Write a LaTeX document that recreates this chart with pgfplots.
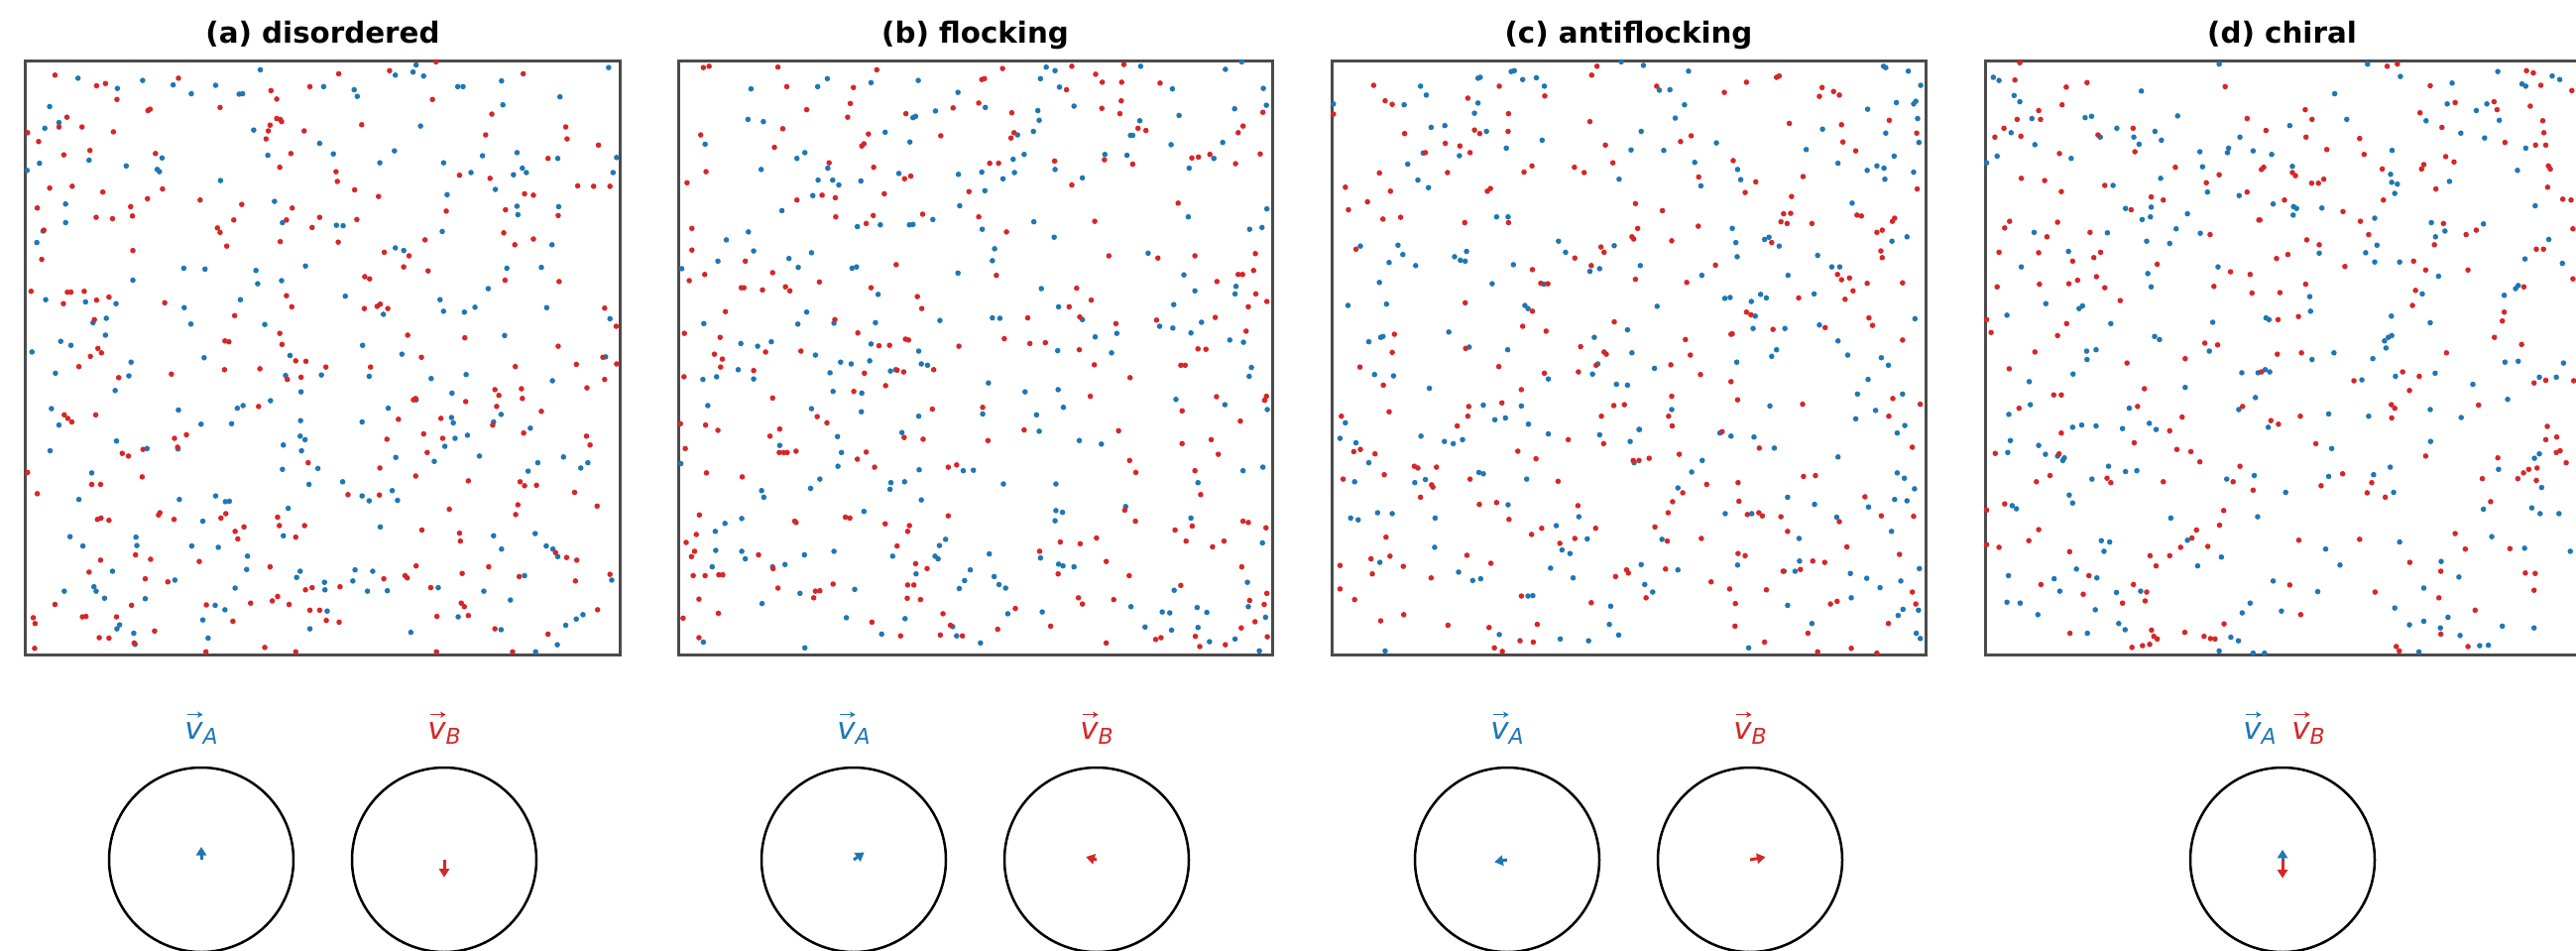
\documentclass[border=0pt]{standalone}
\usepackage{fontspec}
\setmainfont{DejaVu Sans}
\usepackage{pgfplots}
\pgfplotsset{compat=1.18}
\usepgfplotslibrary{polar}
\usetikzlibrary{arrows.meta}
\definecolor{cA}{HTML}{1F77B4}
\definecolor{cB}{HTML}{D62728}
\definecolor{framec}{RGB}{75,75,75}
\newcommand\vlab[3]{%
\node[anchor=base, text=#2, inner sep=0pt] (tmp) at (#1,63.9pt) {\fontsize{9.3}{10}\selectfont\itshape v\raisebox{-1.7pt}{\fontsize{6.6}{7}\selectfont #3}};
\draw[#2, line width=0.45pt, -{Stealth[length=1.7pt,width=1.9pt]}] ([xshift=1.0pt,yshift=7.3pt]tmp.base west) -- ++(4.7pt,0);}
\newcommand\ttl[1]{{\fontsize{8.8}{10}\selectfont\bfseries #1}}
\pgfplotsset{
 panel/.style={anchor=center, scale only axis, width=179.7pt, height=179.7pt, y dir=reverse, ymin=137, ymax=1478, xtick=\empty, ytick=\empty, axis line style={line width=0.9pt, draw=framec}},
 ptA/.style={only marks, mark=*, mark size=0.62pt, color=cA, mark options={draw=cA, fill=cA}},
 ptB/.style={only marks, mark=*, mark size=0.62pt, color=cB, mark options={draw=cB, fill=cB}},
 circ/.style={anchor=center, scale only axis, width=55.8pt, height=55.8pt, xtick=\empty, ytick=\empty, ymin=0, ymax=1, separate axis lines, x axis line style={line width=0.75pt, black}, y axis line style={draw=none}, clip=false},
 arA/.style={cA, line width=0.9pt, -{Triangle[length=2.6pt,width=3.1pt]}},
 arB/.style={cB, line width=0.9pt, -{Triangle[length=2.6pt,width=3.1pt]}},
}
\begin{document}
\begin{tikzpicture}
\path[use as bounding box] (0,0) rectangle (779.4pt,287.4pt);
% ---------------- (a) disordered
\begin{axis}[panel, at={(97.65pt,179.25pt)}, xmin=58, xmax=1400]
\addplot[ptA] coordinates {(176,177) (265,200) (322,182) (391,192) (432,212) (487,193) (540,213) (548,212) (588,158) (731,196) (800,203) (807,218) (893,170) (940,147) (933,163) (957,172) (1034,196) (1046,196) (1133,183) (1265,219) (1375,153) (1136,237) (112,241)
(101,290) (133,277) (201,362) (89,369) (285,375) (366,357) (355,383) (360,388) (61,385) (498,408) (573,294) (605,351) (722,324) (753,348) (891,341) (858,368) (950,285) (1002,368) (1064,390) (1090,352) (1168,345) (1160,395) (1180,380) (1189,390) (1260,358) (1393,356) (1385,390)
(148,461) (148,503) (620,455) (638,503) (760,509) (775,510) (1010,440) (1119,428) (1168,466) (1170,485) (1262,467) (999,523) (1247,553) (97,522) (83,548)
(415,606) (463,608) (578,611) (582,641) (636,634) (690,601) (893,560) (912,566) (1145,606) (1223,604) (300,633) (103,677) (193,682) (262,686) (416,695) (543,677) (780,669) (866,710) (994,677) (1002,703) (1049,705) (1073,694) (1103,652) (1235,695) (1378,720)
(210,729) (240,719) (238,757) (137,771) (160,780) (72,795) (296,818) (291,849) (125,843) (260,882) (431,732) (598,733) (655,803) (461,808) (645,848) (680,885) (726,847) (819,780) (834,850) (908,800) (1140,758) (1053,846) (974,855) (1248,860) (1368,806) (1021,888)
(116,923) (133,960) (403,926) (454,958) (523,957) (536,922) (549,916) (611,905) (679,950) (678,985) (689,993) (640,1005) (681,1018) (638,1060) (718,1058) (940,903) (877,922) (818,953) (1020,943) (1024,955) (1132,936) (1115,953) (1198,967) (1028,990) (1056,983) (1005,1008) (981,1042) (894,1033) (1083,1030) (1273,1032) (1312,1057) (1328,1045) (263,996) (332,1013) (402,1014) (113,1018)
(178,1128) (207,1068) (405,1128) (487,1120) (509,1133) (518,1132) (458,1177) (158,1212) (187,1233) (307,1213) (309,1232) (433,1233) (493,1236) (640,1210) (651,1148) (698,1094) (774,1088) (818,1120) (834,1131) (886,1108) (898,1130) (859,1190) (1115,1210) (1133,1240) (1193,1064) (1215,1045) (1209,1205) (1234,1233) (1249,1240) (1260,1257)
(254,1290) (145,1335) (212,1325) (217,1335) (236,1351) (328,1352) (270,1411) (264,1420) (302,1430) (395,1310) (458,1400) (470,1441) (486,1367) (508,1377) (559,1256) (557,1286) (531,1328) (670,1304) (678,1290) (733,1315) (734,1332) (797,1312) (802,1287) (830,1335) (739,1380) (700,1420) (842,1290) (875,1334) (928,1428) (990,1327) (1035,1393) (1093,1335) (1132,1422) (1153,1355) (1185,1300) (1259,1456) (1278,1412) (1302,1398) (1317,1388) (1382,1310) (305,1455) (1210,1472)};
\addplot[ptB] coordinates {(124,170) (218,194) (238,189) (403,177) (497,243) (612,205) (625,224) (700,196) (765,167) (880,160) (985,140) (977,225) (1182,167) (1111,258) (334,250) (339,247) (264,225)
(62,300) (87,320) (133,287) (151,265) (185,287) (256,298) (203,340) (144,350) (351,347) (601,314) (606,296) (610,283) (625,268) (633,270) (636,275) (687,296) (657,347) (632,378) (817,282) (759,388) (762,410) (1038,396) (1097,305) (1107,403) (1238,358) (1278,287) (1281,314) (1352,328) (1305,420) (1341,421) (1378,421)
(112,425) (163,421) (84,470) (232,434) (217,491) (254,494) (295,467) (299,488) (333,449) (367,427) (452,452) (491,515) (497,525) (528,497) (546,462) (512,556) (660,470) (647,497) (633,546) (705,514) (722,491) (806,496) (764,547) (801,429) (855,444) (1008,477) (1142,474) (1205,441) (1185,438) (1261,487) (1138,526) (960,542) (1163,553) (1205,540) (99,520)
(94,586) (300,566) (868,570) (924,578) (912,603) (967,612) (1141,633) (1263,636) (70,658) (152,660) (160,660) (190,658) (218,678) (246,671) (143,686) (372,684) (647,668) (659,693) (824,625) (835,630) (823,697) (852,692) (859,687) (876,697) (1366,696) (1392,737)
(213,722) (221,787) (229,797) (204,805) (178,828) (268,853) (387,845) (530,713) (632,753) (637,778) (508,770) (517,772) (507,835) (587,833) (668,815) (691,816) (649,857) (680,852) (736,829) (837,829) (921,757) (952,807) (1050,763) (1164,828) (1261,782) (1302,823) (1362,807) (1393,822) (1366,857) (1326,876) (1118,880) (1127,893) (1178,878) (1180,900) (939,900)
(216,937) (145,937) (153,945) (162,953) (584,918) (696,1045) (934,903) (874,992) (900,947) (996,945) (1052,907) (1122,918) (1113,960) (1223,929) (1183,978) (957,980) (1000,990) (965,1022) (1325,985) (1333,1005) (276,1024) (290,1030) (323,1015) (394,990) (401,1010) (421,982) (62,1067)
(84,1115) (207,1094) (227,1094) (321,1077) (499,1170) (510,1160) (361,1158) (358,1163) (393,1173) (220,1173) (228,1170) (246,1175) (306,1253) (340,1263) (450,1268) (531,1200) (537,1217) (551,1190) (627,1168) (631,1187) (668,1213) (688,1187) (786,1117) (857,1118) (858,1057) (939,1075) (953,1197) (1015,1150) (1058,1086) (1038,1204) (1040,1222) (1165,1162) (1170,1140) (1175,1088) (1185,1097) (1212,1096) (1298,1112) (1349,1143) (1255,1248) (1280,1259) (1303,1265) (227,1265)
(201,1292) (124,1365) (328,1307) (297,1367) (263,1393) (186,1393) (194,1392) (75,1395) (79,1408) (224,1440) (246,1441) (303,1452) (349,1425) (379,1314) (466,1366) (526,1403) (566,1362) (610,1280) (615,1357) (627,1347) (653,1365) (598,1462) (690,1332) (705,1327) (768,1325) (766,1405) (722,1378) (700,1378) (737,1401) (867,1307) (915,1300) (920,1305) (940,1278) (987,1392) (973,1327) (1042,1362) (1049,1370) (1058,1390) (1044,1295) (1104,1280) (1118,1420) (1173,1302) (1300,1312) (1238,1432) (1350,1377) (1378,1297) (78,1464) (986,1472) (1158,1472) (668,1472) (465,1472)};
\end{axis}
% ---------------- (b) flocking
\begin{axis}[panel, at={(295.05pt,179.25pt)}, xmin=76, xmax=1422]
\addplot[ptA] coordinates {(620,182) (910,152) (930,160) (1124,150) (1196,201) (1316,157) (1353,140) (1402,200) (241,201) (392,196) (414,178) (513,187) (710,209) (940,197) (897,178) (973,240) (891,250) (894,272) (234,270) (269,275) (608,266) (614,263) (659,251) (772,243) (1211,261) (1337,246) (1409,238) (1122,273) (137,326) (545,299) (601,321) (845,305) (881,297) (1101,306) (1106,306) (1193,327) (1310,322)
(264,383) (345,358) (363,345) (415,380) (393,407) (426,407) (440,418) (490,409) (381,442) (311,476) (482,512) (534,508) (576,392) (600,508) (608,507) (653,496) (711,394) (714,465) (764,389) (812,404) (835,360) (838,390) (860,349) (771,431) (765,518) (882,501) (930,383) (992,402) (928,536) (1043,349) (1093,351) (1232,490) (1234,380) (1290,358) (1410,472) (1371,518) (1399,514)
(185,542) (235,524) (247,567) (166,590) (84,607) (327,584) (348,604) (378,571) (470,606) (480,603) (529,665) (710,617) (793,562) (788,589) (669,724) (523,729) (429,730) (367,705) (347,732) (134,731) (218,776) (256,782) (287,772) (387,802) (513,777) (788,718) (805,719) (899,652) (938,693) (992,722) (936,792) (1141,572) (1222,621) (1340,647) (1338,664) (1247,657) (1199,688) (1167,737) (1197,741) (1238,752) (1262,728) (1070,753) (1021,761) (1326,768) (1357,773)
(132,857) (163,851) (212,835) (247,856) (143,916) (82,1047) (306,1006) (378,923) (427,884) (492,888) (444,818) (468,822) (420,842) (510,815) (557,838) (569,835) (621,793) (627,822) (641,825) (491,930) (437,986) (446,1022) (438,1053) (583,977) (621,940) (779,865) (766,935) (862,885) (888,937) (894,974) (937,880) (949,920) (1058,797) (985,995) (1035,1003) (1204,902) (1315,914) (1411,925) (1375,830) (1370,850) (1356,1063) (1401,1055)
(265,1108) (270,1123) (376,1103) (397,1082) (497,1155) (558,1090) (556,1105) (589,1088) (622,1061) (627,1129) (722,1063) (745,1062) (813,1093) (220,1171) (182,1182) (160,1200) (161,1243) (220,1245) (228,1262) (290,1280) (318,1275) (362,1253) (429,1245) (562,1256) (682,1218) (668,1232) (658,1256) (665,1262) (932,1093) (932,1153) (947,1157) (930,1176) (1090,1144) (1254,1090) (1238,1170) (1400,1226) (897,1260) (781,1251)
(153,1280) (133,1450) (266,1363) (352,1340) (476,1331) (457,1395) (537,1432) (590,1397) (615,1296) (725,1311) (738,1287) (713,1329) (698,1415) (707,1436) (761,1452) (792,1302) (803,1320) (818,1328) (823,1386) (938,1274) (948,1278) (973,1280) (901,1382) (1102,1370) (1134,1416) (1173,1382) (1190,1384) (1194,1423) (1200,1333) (1252,1372) (1274,1383) (1254,1417) (1280,1449) (1338,1443) (1366,1315) (1368,1370) (1407,1394) (1393,1470) (363,1463)};
\addplot[ptB] coordinates {(133,153) (146,150) (302,152) (526,158) (764,180) (770,178) (811,155) (968,150) (1022,168) (1037,186) (1081,186) (1086,146) (1168,188) (322,196) (473,198) (956,203) (1080,228) (832,255) (466,234) (460,265) (367,248) (592,257) (699,244) (757,233) (1036,245) (1077,257) (1401,254) (127,305) (313,291) (294,333) (507,303) (492,330) (497,325) (671,307) (837,300) (830,312) (1118,290) (1136,295) (1356,285) (1345,300)
(139,388) (418,368) (345,452) (402,441) (432,447) (433,490) (502,505) (518,487) (543,438) (519,378) (589,404) (603,398) (630,484) (735,433) (782,369) (802,369) (757,490) (820,524) (929,364) (968,418) (1020,500) (1042,361) (1106,371) (1209,459) (1240,357) (1255,355) (1281,349) (1339,370) (1395,348) (96,413) (107,516)
(107,565) (228,590) (101,634) (136,620) (290,616) (219,650) (225,650) (267,655) (319,648) (329,657) (396,637) (570,598) (513,650) (618,670) (628,697) (797,622) (431,722) (183,704) (90,753) (171,762) (274,795) (354,793) (483,752) (531,781) (555,780) (591,766) (598,768) (868,718) (815,765) (873,776) (908,774) (962,693) (979,651) (1012,678) (986,716) (985,790) (1052,578) (1163,583) (1247,578) (1297,636) (1345,620) (1355,620) (1384,573) (1380,611) (1368,693) (1385,664) (1410,681) (1160,723) (1068,731) (1293,717) (1363,748) (1254,788) (1272,789)
(89,851) (176,811) (158,800) (172,829) (247,837) (290,899) (138,960) (166,972) (81,957) (92,1013) (306,969) (284,985) (305,1022) (315,1022) (323,1022) (343,1019) (391,941) (413,955) (474,884) (498,843) (546,871) (572,836) (587,840) (655,835) (712,782) (482,1037) (521,1055) (502,1021) (588,988) (631,992) (652,924) (766,920) (778,995) (860,971) (1010,895) (1100,853) (1019,824) (1074,973) (1218,928) (1296,896) (1350,951) (1409,895) (1405,904) (1215,825) (1225,825) (1218,1002) (1284,993) (1300,1026)
(140,1068) (221,1077) (343,1180) (340,1177) (455,1168) (465,1170) (545,1183) (688,1055) (707,1050) (688,1165) (124,1163) (117,1207) (94,1225) (113,1245) (106,1257) (258,1253) (291,1284) (600,1187) (596,1200) (572,1233) (614,1273) (1024,1215) (1099,1040) (1113,1067) (1088,1152) (1112,1177) (1247,1063) (1260,1117) (1241,1188) (1202,1197) (1227,1222) (1287,1235) (1313,1222) (1356,1177) (1368,1180) (1408,1192) (942,1224) (987,1228) (895,1245) (1046,1268)
(110,1300) (168,1298) (177,1298) (137,1300) (123,1353) (167,1385) (87,1396) (123,1440) (302,1328) (387,1335) (383,1350) (397,1334) (427,1319) (515,1405) (580,1436) (596,1321) (610,1321) (595,1351) (625,1354) (640,1284) (676,1386) (693,1412) (720,1436) (670,1434) (800,1421) (840,1374) (937,1296) (983,1350) (992,1364) (920,1414) (1063,1354) (1098,1300) (1046,1452) (1158,1444) (1170,1440) (1215,1322) (1248,1437) (1258,1460) (1316,1456) (1353,1280) (1371,1356) (1404,1365) (1383,1404) (1411,1438) (1352,1418) (1410,1340)};
\end{axis}
% ---------------- (c) antiflocking
\begin{axis}[panel, at={(492.75pt,179.25pt)}, xmin=97, xmax=1440]
\addplot[ptA] coordinates {(101,235) (298,195) (311,215) (428,177) (433,175) (420,256) (428,233) (261,237) (503,162) (510,160) (529,180) (560,176) (578,195) (752,140) (802,148) (838,204) (862,203) (904,161) (895,237) (1345,150) (1350,153) (1401,161) (1429,193) (1413,235) (1418,229) (1309,247) (1374,232) (1422,268) (1207,292) (874,267) (322,288) (353,284) (447,297) (492,335) (573,317) (386,352) (304,346) (269,371)
(292,407) (316,424) (470,490) (496,490) (774,339) (797,297) (747,405) (848,340) (967,323) (918,367) (932,420) (1015,383) (1022,406) (1170,338) (1242,369) (1308,385) (1330,375) (1346,380) (1348,405) (1369,353) (1413,389) (1425,322) (1350,301) (1274,459) (1364,545) (1398,535)
(1003,516) (1011,548) (1014,580) (934,622) (1076,541) (1086,536) (1109,556) (1196,577) (1228,603) (1246,603) (1188,664) (1129,622) (998,672) (986,674) (1046,681) (1067,665) (1080,673) (1055,714) (1050,742) (1122,742) (1200,734) (1242,770) (1416,720) (795,600) (736,555) (681,613) (703,607) (626,570) (610,545) (508,598) (577,642) (460,641) (287,600) (227,593) (247,554) (258,575) (162,556) (375,580) (388,588) (399,590) (402,568) (205,638) (134,690) (221,687) (534,690) (541,697) (833,692) (362,750) (181,772) (208,762) (213,760) (766,745)
(408,784) (495,790) (691,762) (776,797) (699,822) (687,845) (741,868) (766,870) (703,982) (772,997) (792,970) (827,832) (1013,818) (1092,805) (1103,790) (1088,917) (1264,802) (1340,808) (1356,825) (1310,857) (1286,890) (1388,890) (1327,927) (1282,946) (1393,961) (1376,978) (1242,1032) (1098,1012) (1052,987) (975,978) (1000,985) (194,846) (237,849) (318,877) (128,955) (116,990) (152,1000) (181,1045) (299,985) (352,997) (372,1002) (393,993) (440,915) (466,948) (490,944) (526,917) (542,958) (587,856) (587,980) (866,925) (793,970) (781,1045) (935,1040) (911,1066)
(149,1088) (285,1090) (309,1083) (430,1067) (440,1070) (496,1140) (331,1170) (140,1170) (157,1174) (201,1158) (234,1160) (330,1236) (538,1082) (605,1187) (618,1242) (636,1250) (675,1217) (656,1167) (880,1102) (844,1218) (987,1160) (1047,1160) (1128,1123) (1189,1139) (1154,1216) (1239,1168) (1311,1145) (1363,1200) (1370,1128) (1398,1131) (1415,1104) (1376,1068) (1392,1080)
(206,1270) (384,1292) (416,1311) (434,1307) (592,1283) (643,1305) (541,1346) (552,1345) (476,1433) (614,1443) (678,1447) (218,1470) (728,1369) (725,1410) (746,1434) (797,1275) (805,1320) (823,1337) (880,1287) (1015,1276) (1040,1463) (1128,1367) (1120,1290) (1145,1290) (1155,1267) (1183,1408) (1272,1350) (1270,1295) (1307,1306) (1384,1312) (1337,1327) (1426,1284) (1378,1390) (1389,1376) (1424,1378) (1419,1430) (1428,1442)};
\addplot[ptB] coordinates {(101,258) (192,193) (405,222) (218,228) (234,236) (476,195) (579,217) (497,257) (685,170) (697,150) (832,195) (985,209) (1035,186) (1103,175) (1109,172) (1200,218) (1206,198) (1232,207) (1245,215) (1358,272) (1250,282) (1132,279) (681,275) (262,302) (420,294) (432,302) (496,297) (354,324) (387,330) (410,345) (309,345)
(205,391) (128,423) (135,474) (178,456) (359,390) (230,432) (213,495) (253,491) (497,503) (398,503) (449,432) (456,426) (532,389) (550,375) (646,378) (668,390) (716,328) (733,368) (886,320) (910,307) (1005,363) (927,400) (1032,435) (1056,411) (1163,399) (1282,341) (1253,321) (1421,427) (1420,301) (1137,444) (1119,483) (1135,482) (1113,501) (1127,505) (1183,505) (1285,486) (1295,488) (1330,525) (1342,520) (1365,500) (1370,493) (926,511) (784,460) (789,516) (845,476)
(965,599) (900,638) (1092,548) (1241,620) (1250,632) (1268,628) (1276,657) (1258,676) (1308,640) (1153,673) (1339,567) (1342,582) (1388,639) (1035,705) (1045,711) (1095,744) (1213,740) (1312,718) (1320,735) (1388,768) (1000,755) (866,544) (784,631) (776,535) (780,540) (706,558) (713,570) (684,600) (647,583) (551,609) (570,640) (586,641) (399,684) (152,563) (551,703) (736,727) (529,737) (582,748) (239,755) (234,796)
(400,787) (660,783) (713,795) (718,800) (695,825) (655,840) (735,916) (707,940) (712,1002) (759,914) (864,824) (908,802) (897,767) (931,846) (1000,862) (1003,754) (1015,903) (1162,913) (1366,900) (1357,940) (1428,913) (1410,1010) (1064,1012) (980,975) (161,829) (214,870) (227,930) (119,940) (147,1020) (162,1015) (195,1025) (381,962) (405,940) (407,918) (482,910) (526,880) (578,843) (475,828) (518,1019) (559,1036) (632,993) (859,940) (866,895) (867,962) (779,1040) (792,1040) (815,1035) (883,1026)
(123,1082) (216,1072) (284,1053) (292,1057) (323,1095) (326,1100) (334,1055) (298,1123) (410,1082) (431,1139) (470,1135) (498,1173) (220,1213) (549,1207) (572,1193) (609,1087) (613,1227) (647,1216) (654,1142) (694,1193) (891,1113) (868,1133) (858,1158) (828,1190) (856,1222) (945,1094) (933,1216) (1016,1090) (1018,1132) (1037,1162) (1063,1158) (1071,1165) (1113,1167) (1128,1200) (1164,1076) (1191,1074) (1245,1178) (1262,1235) (1303,1122) (1340,1165) (1413,1166)
(116,1277) (186,1262) (189,1296) (229,1256) (259,1279) (116,1330) (149,1354) (322,1305) (403,1254) (457,1272) (526,1346) (208,1402) (260,1388) (360,1412) (453,1417) (523,1447) (553,1450) (562,1410) (465,1463) (483,1471) (684,1361) (739,1302) (764,1287) (768,1294) (808,1350) (852,1285) (955,1314) (997,1330) (1010,1363) (1016,1250) (1032,1255) (1009,1414) (1076,1450) (1080,1332) (1118,1290) (1157,1286) (1185,1267) (1212,1270) (1174,1430) (1196,1472) (1225,1364) (1240,1358) (1272,1464) (1330,1475) (1381,1252) (1356,1408) (1410,1337) (1418,1364)};
\end{axis}
% ---------------- (d) chiral
\begin{axis}[panel, at={(690.45pt,179.25pt)}, xmin=8, xmax=1581]
\addplot[ptA] coordinates {(628,145) (1021,145) (1108,173) (30,175) (45,182) (422,206) (934,212) (1245,188) (1366,162) (1430,190) (1440,195) (1510,172) (1530,180) (85,216) (100,230) (132,268) (273,266) (290,263) (518,262) (966,270) (1176,273) (1232,235) (1309,250) (1337,235) (1370,272) (77,300) (140,327) (313,310) (357,290) (402,310) (416,326) (458,297) (475,317) (683,310) (815,284) (1268,301) (1331,312) (1440,335)
(12,368) (40,353) (236,358) (577,343) (584,377) (653,335) (650,345) (718,341) (767,349) (597,434) (473,403) (347,419) (448,468) (380,471) (681,442) (771,461) (822,376) (1082,394) (1085,412) (1100,416) (1093,437) (1238,410) (1086,340) (1418,385) (1465,465) (825,467) (833,471) (824,486) (900,470) (544,483) (446,490) (424,496) (1040,493) (332,526) (138,525)
(104,603) (229,568) (436,545) (497,550) (439,618) (514,517) (578,527) (893,572) (625,603) (868,670) (870,703) (1016,571) (1040,592) (1046,554) (1106,592) (1209,624) (1201,535) (1190,503) (1226,522) (1328,506) (1501,541) (1438,585) (1537,595) (169,686) (257,697) (266,691) (66,712) (341,731) (448,648) (1166,664) (1413,652) (1420,645) (1383,667) (1084,714) (1187,729) (752,718) (760,722) (611,728)
(277,793) (302,790) (278,812) (457,760) (470,767) (125,862) (241,845) (602,793) (538,875) (128,914) (71,936) (390,922) (688,842) (731,842) (750,835) (762,840) (874,812) (932,797) (1066,770) (1076,762) (1085,758) (1070,786) (1035,810) (1385,818) (1420,816) (1476,852) (1521,852) (1540,820) (1006,858) (1095,850) (1200,843) (1300,868) (1392,902) (1187,925) (1024,940) (918,935) (758,965) (680,925) (724,898) (443,956) (461,970) (240,965) (264,960) (302,962) (372,968) (1269,943)
(75,995) (68,1022) (150,1006) (168,1026) (200,1030) (214,1040) (218,1034) (335,1053) (380,1065) (410,1063) (291,1082) (648,1082) (721,1074) (804,1112) (926,1013) (918,1076) (1037,1072) (1090,1112) (1081,1055) (1188,997) (1368,1060) (1463,1035) (1476,1025) (1482,1101) (1456,1147) (1478,1160) (1528,1160) (1328,1150) (80,1142) (91,1149) (231,1118) (240,1136) (500,1170) (730,1167) (544,1220) (316,1221) (338,1224) (323,1245) (634,1258) (1106,1224) (910,1240) (1350,1212) (1437,1238) (1558,1245) (948,1276)
(70,1300) (191,1307) (206,1335) (304,1305) (250,1285) (571,1278) (356,1338) (420,1335) (66,1360) (101,1362) (148,1388) (300,1377) (279,1430) (362,1408) (379,1422) (659,1439) (679,1447) (689,1384) (710,1362) (771,1312) (793,1380) (889,1336) (1093,1373) (1132,1411) (1170,1403) (1170,1328) (1157,1472) (628,1470) (1216,1268) (1234,1394) (1214,1418) (1263,1303) (1266,1435) (1318,1458) (1341,1457) (1378,1414) (1462,1418) (718,1475) (748,1475)};
\addplot[ptB] coordinates {(100,142) (1073,150) (1100,145) (87,181) (278,187) (223,197) (644,196) (1187,194) (1442,160) (1460,165) (1480,193) (212,237) (150,250) (155,270) (93,270) (702,268) (856,248) (874,270) (1160,255) (1253,232) (1356,230) (1364,248) (1452,240) (1485,273) (1562,205) (58,290) (34,310) (103,308) (307,305) (400,290) (405,343) (752,295) (858,310) (1000,313) (1218,288) (1385,322) (1488,300) (1493,328) (1466,328)
(205,347) (104,403) (166,408) (210,433) (628,395) (594,413) (512,378) (325,419) (448,445) (480,452) (395,474) (746,378) (740,383) (702,434) (822,390) (830,397) (873,414) (891,414) (905,405) (913,338) (1012,349) (1060,382) (1063,452) (1202,427) (1164,382) (1170,372) (1228,354) (1250,366) (1500,375) (1505,382) (1498,423) (1538,450) (1560,452) (801,452) (956,478) (733,497) (1002,500) (200,502) (60,515) (73,500) (286,525) (172,535)
(45,570) (150,571) (240,590) (296,582) (314,570) (464,597) (604,530) (860,542) (893,553) (780,584) (810,575) (736,497) (658,614) (710,620) (614,647) (715,662) (789,661) (857,642) (838,715) (961,602) (1143,590) (1175,610) (1287,610) (1024,530) (1198,553) (1222,505) (1282,530) (1309,520) (1468,563) (1487,563) (1565,517) (1565,630) (40,648) (152,642) (230,641) (253,633) (303,625) (325,650) (224,731) (366,679) (200,758) (1148,656) (1435,648) (1383,705) (1378,725) (1140,690) (784,722) (1357,762) (1429,778)
(12,722) (24,751) (140,795) (384,820) (72,833) (190,892) (210,892) (430,878) (590,775) (624,779) (538,810) (98,922) (412,918) (740,840) (782,800) (846,797) (1230,797) (1462,865) (1493,859) (1567,860) (985,860) (1114,840) (1158,850) (1132,882) (1315,915) (1084,914) (1093,922) (1085,944) (843,940) (765,950) (785,958) (690,918) (530,942) (497,973) (210,978) (1497,963)
(35,1024) (204,1025) (403,1000) (516,1015) (553,1020) (577,1043) (331,1080) (341,1090) (180,1074) (144,1088) (480,1088) (683,1053) (665,1088) (718,1107) (884,1002) (898,1097) (955,1070) (1020,1113) (1032,1090) (1068,1123) (1175,1030) (1325,1081) (1366,1034) (1419,1081) (1434,1068) (1448,1060) (1470,1057) (1468,1085) (1521,1022) (1531,1018) (1547,1045) (1493,993) (1522,987) (1347,1133) (60,1138) (12,1152) (640,1153) (629,1186) (568,1197) (556,1215) (526,1236) (150,1196) (124,1221) (232,1246) (839,1220) (598,1234) (12,1230) (45,1236) (1000,1218) (1253,1205) (1280,1240) (1398,1239) (1465,1295) (1133,1270) (1041,1337)
(156,1320) (268,1342) (283,1300) (445,1255) (461,1278) (497,1255) (372,1362) (401,1320) (436,1337) (432,1357) (233,1430) (449,1423) (455,1437) (397,1462) (425,1458) (444,1455) (464,1443) (537,1428) (588,1437) (605,1442) (617,1443) (641,1409) (815,1321) (844,1388) (1097,1460) (1105,1470) (1210,1350) (1215,1290) (1215,1432) (1287,1460) (1306,1378) (1439,1294) (1462,1333)};
\end{axis}
% ---------------- titles
\node[anchor=base] at (97.65pt,274.5pt) {\ttl{(a) disordered}};
\node[anchor=base] at (295.05pt,274.5pt) {\ttl{(b) flocking}};
\node[anchor=base] at (492.75pt,274.5pt) {\ttl{(c) antiflocking}};
\node[anchor=base] at (690.45pt,274.5pt) {\ttl{(d) chiral}};
% ---------------- velocity labels
\vlab{60.9pt}{cA}{A}
\vlab{134.4pt}{cB}{B}
\vlab{258.3pt}{cA}{A}
\vlab{331.8pt}{cB}{B}
\vlab{456.0pt}{cA}{A}
\vlab{529.5pt}{cB}{B}
\vlab{683.7pt}{cA}{A}
\vlab{698.4pt}{cB}{B}
% ---------------- velocity circles
\begin{polaraxis}[circ, at={(60.9pt,27.3pt)}]
\addplot[arA] coordinates {(90,0) (90,0.14)};
\end{polaraxis}
\begin{polaraxis}[circ, at={(134.4pt,27.3pt)}]
\addplot[arB] coordinates {(270,0) (270,0.19)};
\end{polaraxis}
\begin{polaraxis}[circ, at={(258.3pt,27.3pt)}]
\addplot[arA] coordinates {(35,0) (35,0.14)};
\end{polaraxis}
\begin{polaraxis}[circ, at={(331.8pt,27.3pt)}]
\addplot[arB] coordinates {(165,0) (165,0.12)};
\end{polaraxis}
\begin{polaraxis}[circ, at={(456.0pt,27.3pt)}]
\addplot[arA] coordinates {(190,0) (190,0.14)};
\end{polaraxis}
\begin{polaraxis}[circ, at={(529.5pt,27.3pt)}]
\addplot[arB] coordinates {(10,0) (10,0.17)};
\end{polaraxis}
\begin{polaraxis}[circ, at={(690.6pt,27.3pt)}]
\addplot[arA] coordinates {(90,0) (90,0.11)};
\addplot[arB] coordinates {(270,0) (270,0.20)};
\end{polaraxis}
\end{tikzpicture}
\end{document}
